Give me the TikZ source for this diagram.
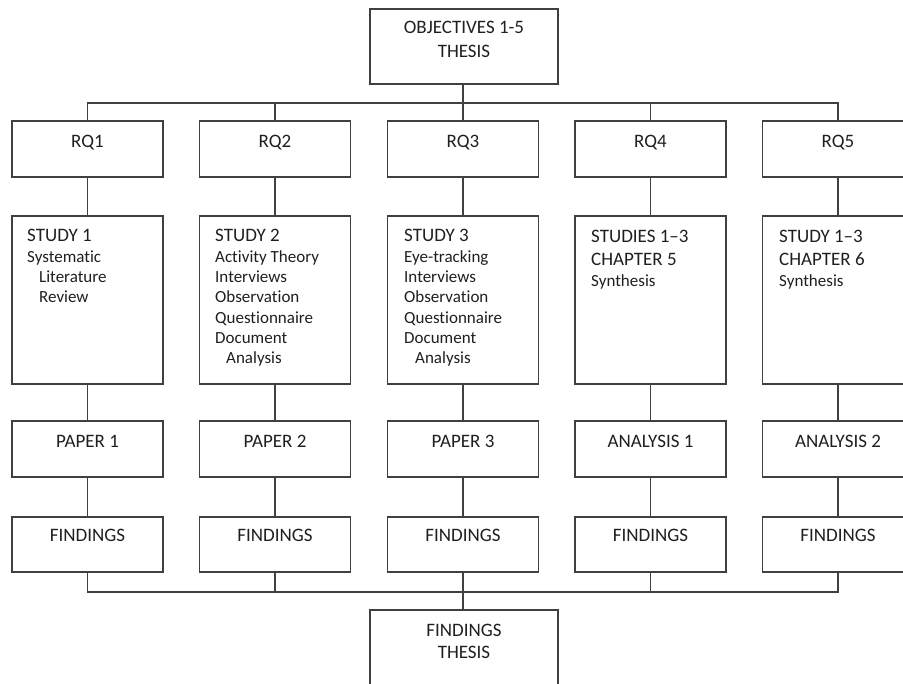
\documentclass[tikz,border=0pt]{standalone}
\usepackage{fontspec}
\setmainfont{Carlito}[Ligatures={NoCommon}]
\newcommand\mkline[4]{\node[lbl,anchor=base west] (#1) at (#2,#3) {#4};}
\newcommand\mksmall[4]{\node[lbl,small,anchor=base west] (#1) at (#2,#3) {#4};}
\begin{document}
\begin{tikzpicture}[x=1pt,y=-1pt,
  box/.style={draw=black!75, line width=1.5pt, rectangle, inner sep=0pt, minimum width=151pt},
  bigbox/.style={box, minimum width=188pt, minimum height=75pt},
  rqbox/.style={box, minimum height=56pt},
  fbox/.style={box, minimum height=55pt},
  stbox/.style={box, minimum height=168pt},
  lbl/.style={inner sep=0pt, text=black!88, font=\fontsize{19}{22}\selectfont},
  small/.style={font=\fontsize{17}{20}\selectfont},
  conn/.style={draw=black!75, line width=1.5pt},
]
\useasboundingbox (0,0) rectangle (903,684);
\clip (0,0) rectangle (903,684);

% top and bottom boxes
\node[bigbox] (obj) at (464,46.5) {};
\node[lbl,anchor=base] (objt1) at (464,33.5) {OBJECTIVES 1-5};
\node[lbl,anchor=base] (objt2) at (464,57.5) {THESIS};

\node[bigbox] (fin) at (464,647.5) {};
\node[lbl,anchor=base] (fint1) at (464,636.5) {FINDINGS};
\node[lbl,anchor=base] (fint2) at (464,658.5) {THESIS};

% columns
\foreach \i/\cx/\rq/\pp in {1/87.5/RQ1/PAPER 1, 2/275/RQ2/PAPER 2, 3/463/RQ3/PAPER 3, 4/650.5/RQ4/ANALYSIS 1, 5/838/RQ5/ANALYSIS 2}{
  \node[rqbox] (rq\i) at (\cx,149) {};
  \node[lbl,anchor=base] (rqt\i) at (\cx,148) {\rq};
  \node[stbox] (st\i) at (\cx,300) {};
  \node[rqbox] (pa\i) at (\cx,449) {};
  \node[lbl,anchor=base] (pat\i) at (\cx,448) {\pp};
  \node[fbox] (fi\i) at (\cx,544.5) {};
  \node[lbl,anchor=base] (fit\i) at (\cx,542) {FINDINGS};
}

% study texts
\mkline{a1}{27}{242}{STUDY 1}
\mksmall{a2}{27}{262.3}{Systematic}
\mksmall{a3}{39}{282.6}{Literature}
\mksmall{a4}{39}{303}{Review}

\mkline{b1}{215}{242}{STUDY 2}
\mksmall{b2}{215}{262.3}{Activity Theory}
\mksmall{b3}{215}{282.6}{Interviews}
\mksmall{b4}{215}{303}{Observation}
\mksmall{b5}{215}{323.3}{Questionnaire}
\mksmall{b6}{215}{343.6}{Document}
\mksmall{b7}{226}{364}{Analysis}

\mkline{c1}{404}{242}{STUDY 3}
\mksmall{c2}{404}{262.3}{Eye-tracking}
\mksmall{c3}{404}{282.6}{Interviews}
\mksmall{c4}{404}{303}{Observation}
\mksmall{c5}{404}{323.3}{Questionnaire}
\mksmall{c6}{404}{343.6}{Document}
\mksmall{c7}{415}{364}{Analysis}

\mkline{d1}{591}{243}{STUDIES 1–3}
\mkline{d2}{591}{265.5}{CHAPTER 5}
\mksmall{d3}{591}{287}{Synthesis}

\mkline{e1}{779}{243}{STUDY 1–3}
\mkline{e2}{779}{265.5}{CHAPTER 6}
\mksmall{e3}{779}{287}{Synthesis}

% buses
\coordinate (tb) at (463,103);
\coordinate (bb) at (463,592);

\draw[conn] (obj.south -| rq3.north) -- (rq3.north);
\draw[conn] (rq1.north) |- (tb) -| (rq5.north);
\draw[conn] (rq2.north) -- (rq2.north |- tb);
\draw[conn] (rq4.north) -- (rq4.north |- tb);

\draw[conn] (fi3.south) -- (fin.north -| fi3.south);
\draw[conn] (fi1.south) |- (bb) -| (fi5.south);
\draw[conn] (fi2.south) -- (fi2.south |- bb);
\draw[conn] (fi4.south) -- (fi4.south |- bb);

\foreach \i in {1,...,5}{
  \draw[conn] (rq\i.south) -- (st\i.north);
  \draw[conn] (st\i.south) -- (pa\i.north);
  \draw[conn] (pa\i.south) -- (fi\i.north);
}
\end{tikzpicture}
\end{document}
